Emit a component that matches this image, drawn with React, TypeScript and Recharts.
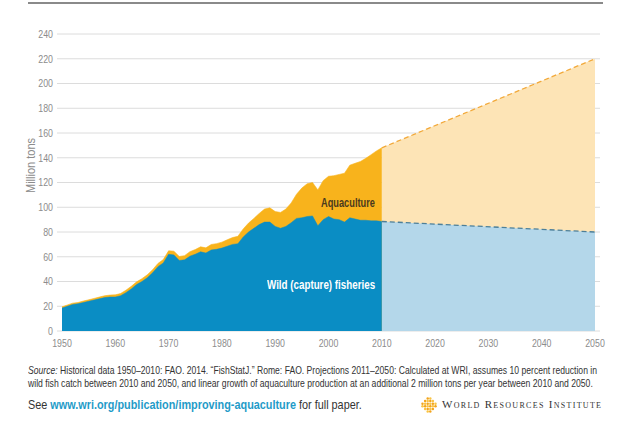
import { useLayoutEffect, useRef, useState } from "react";
import { AreaChart, Area, XAxis, YAxis, CartesianGrid } from "recharts";

const YEARS = [
  1950, 1951, 1952, 1953, 1954, 1955, 1956, 1957, 1958, 1959,
  1960, 1961, 1962, 1963, 1964, 1965, 1966, 1967, 1968, 1969,
  1970, 1971, 1972, 1973, 1974, 1975, 1976, 1977, 1978, 1979,
  1980, 1981, 1982, 1983, 1984, 1985, 1986, 1987, 1988, 1989,
  1990, 1991, 1992, 1993, 1994, 1995, 1996, 1997, 1998, 1999,
  2000, 2001, 2002, 2003, 2004, 2005, 2006, 2007, 2008, 2009, 2010,
];

// million tons
const WILD_CATCH = [
  18.5, 20, 21.5, 22, 23, 24, 25, 26, 27, 27.5,
  27.5, 28.5, 31, 34, 37.5, 40, 43, 47, 52, 55,
  62, 61.5, 57, 57.5, 60.5, 62, 64, 63, 65.5, 66,
  67, 68.5, 70, 70.5, 76, 80, 83, 86, 88, 88,
  84.5, 83, 84.5, 87.5, 91, 91.5, 92.5, 93, 85, 90,
  92.5, 90.5, 90, 88, 91.5, 90.5, 89.5, 89.5, 89, 89, 88.5,
];

const AQUACULTURE = [
  1, 1, 1, 1, 1.2, 1.2, 1.3, 1.4, 1.5, 1.5,
  1.7, 1.8, 2, 2.1, 2.2, 2.3, 2.4, 2.5, 2.6, 2.7,
  2.8, 3, 3.2, 3.4, 3.6, 3.8, 4, 4.2, 4.4, 4.6,
  4.8, 5.2, 5.5, 6, 6.5, 7.2, 8, 9, 10.5, 11.5,
  12, 12.8, 14, 16, 19.5, 24, 26.5, 27, 29, 31.5,
  32.5, 35, 36.5, 39.5, 42.5, 45, 47.5, 50, 53.5, 56.5, 59.5,
];

const PROJECTION_YEARS = [2010, 2050];
const PROJECTED_WILD = [88.5, 80];
const PROJECTED_AQUACULTURE = [59.5, 140];

const X_TICKS = [1950, 1960, 1970, 1980, 1990, 2000, 2010, 2020, 2030, 2040, 2050];
const Y_TICKS = [0, 20, 40, 60, 80, 100, 120, 140, 160, 180, 200, 220, 240];

type Row = { year: number; wild?: number; total?: number; projWild?: number; projTotal?: number };

const rows: Row[] = YEARS.map((year, i) => ({
  year,
  wild: WILD_CATCH[i],
  total: WILD_CATCH[i] + AQUACULTURE[i],
}));
PROJECTION_YEARS.forEach((year, i) => {
  let row = rows.find((r) => r.year === year);
  if (!row) {
    row = { year };
    rows.push(row);
  }
  row.projWild = PROJECTED_WILD[i];
  row.projTotal = PROJECTED_WILD[i] + PROJECTED_AQUACULTURE[i];
});

const SANS = "'Liberation Sans', Arial, sans-serif";
const TICK_SCALE = 0.8;

// squeezes a line of text to a given width (stands in for a condensed face)
function FitText({ width, style, children }: { width: number; style?: React.CSSProperties; children: React.ReactNode }) {
  const ref = useRef<HTMLSpanElement>(null);
  const [k, setK] = useState(1);
  useLayoutEffect(() => {
    if (ref.current && ref.current.offsetWidth) setK(width / ref.current.offsetWidth);
  }, [width]);
  return (
    <span
      ref={ref}
      style={{
        display: "inline-block",
        whiteSpace: "nowrap",
        transformOrigin: "0 0",
        transform: `scaleX(${k})`,
        ...style,
      }}
    >
      {children}
    </span>
  );
}

const YTick = ({ x, y, payload }: any) => (
  <g transform={`translate(${x},${y})`}>
    <text transform={`scale(${TICK_SCALE},1)`} textAnchor="end" dy="0.36em" fontSize={11} fill="#8c8c8c" fontFamily={SANS}>
      {payload.value}
    </text>
  </g>
);

const XTick = ({ x, y, payload }: any) => (
  <g transform={`translate(${x},${y})`}>
    <text transform={`scale(${TICK_SCALE},1)`} textAnchor="middle" dy="0.71em" fontSize={11} fill="#8c8c8c" fontFamily={SANS}>
      {payload.value}
    </text>
  </g>
);

const LogoMark = () => {
  const dots: { x: number; y: number; c: string }[] = [];
  for (let r = 0; r < 6; r++) {
    for (let c = 0; c < 6; c++) {
      const x = 1.5 + c * 2.6;
      const y = 1.5 + r * 2.6;
      if ((x - 8) ** 2 + (y - 8) ** 2 <= 49) {
        dots.push({ x, y, c: (r + c) % 2 ? "#f9c443" : "#f3a41c" });
      }
    }
  }
  return (
    <svg width={16} height={16} style={{ position: "absolute", left: 421, top: 397 }}>
      {dots.map((d, i) => (
        <circle key={i} cx={d.x} cy={d.y} r={1.25} fill={d.c} />
      ))}
    </svg>
  );
};

export default function App() {
  return (
    <div style={{ position: "absolute", left: 0, top: 0, width: 640, height: 434, background: "#fff", fontFamily: SANS }}>
      <div style={{ position: "absolute", left: 28, top: 2, width: 575, height: 2, background: "#8a8a8a" }} />
      <AreaChart width={640} height={360} data={rows} margin={{ top: 34, right: 40, left: 12, bottom: 9 }}>
        <CartesianGrid vertical={false} stroke="#dcdcdc" />
        <XAxis
          dataKey="year"
          type="number"
          domain={[1950, 2050]}
          ticks={X_TICKS}
          padding={{ left: 5, right: 5 }}
          height={20}
          tick={<XTick />}
          tickLine={false}
          axisLine={false}
        />
        <YAxis
          type="number"
          domain={[0, 240]}
          ticks={Y_TICKS}
          width={45}
          tick={<YTick />}
          tickSize={4}
          tickMargin={0}
          tickLine={false}
          axisLine={false}
        />
        <Area
          type="linear"
          dataKey="projTotal"
          stroke="#f2a93a"
          strokeWidth={1.3}
          strokeDasharray="5 3"
          fill="#fde4b6"
          fillOpacity={1}
          isAnimationActive={false}
        />
        <Area
          type="linear"
          dataKey="projWild"
          stroke="#4c7f99"
          strokeWidth={1.3}
          strokeDasharray="5 3"
          fill="#b4d7ea"
          fillOpacity={1}
          isAnimationActive={false}
        />
        <Area
          type="linear"
          dataKey="total"
          stroke="#f8b31c"
          strokeWidth={0.6}
          fill="#f8b31c"
          fillOpacity={1}
          isAnimationActive={false}
        />
        <Area
          type="linear"
          dataKey="wild"
          stroke="#0a8dc4"
          strokeWidth={0.5}
          fill="#0a8dc4"
          fillOpacity={1}
          isAnimationActive={false}
        />
      </AreaChart>

      <div style={{ position: "absolute", left: 23, top: 193, transform: "rotate(-90deg)", transformOrigin: "0 0", lineHeight: "14px" }}>
        <FitText width={55} style={{ fontSize: 12, color: "#8c8c8c" }}>Million tons</FitText>
      </div>

      <div style={{ position: "absolute", left: 321, top: 194, lineHeight: "15px" }}>
        <FitText width={54} style={{ fontSize: 12.5, fontWeight: 700, color: "#4a3a1e" }}>Aquaculture</FitText>
      </div>
      <div style={{ position: "absolute", left: 267, top: 276, lineHeight: "15px" }}>
        <FitText width={108} style={{ fontSize: 12.5, fontWeight: 700, color: "#ffffff" }}>Wild (capture) fisheries</FitText>
      </div>

      <div style={{ position: "absolute", left: 28, top: 364, fontSize: 11, lineHeight: "12.5px", color: "#333" }}>
        <div>
          <FitText width={569}>
            <i>Source:</i> Historical data 1950–2010: FAO. 2014. “FishStatJ.” Rome: FAO. Projections 2011–2050: Calculated at WRI, assumes 10 percent reduction in
          </FitText>
        </div>
        <div>
          <FitText width={565}>
            wild fish catch between 2010 and 2050, and linear growth of aquaculture production at an additional 2 million tons per year between 2010 and 2050.
          </FitText>
        </div>
      </div>

      <div style={{ position: "absolute", left: 28, top: 397, fontSize: 13, lineHeight: "16px", color: "#333" }}>
        <FitText width={334}>
          See <span style={{ color: "#1f9bc8", fontWeight: 700 }}>www.wri.org/publication/improving-aquaculture</span> for full paper.
        </FitText>
      </div>

      <LogoMark />
      <div
        style={{
          position: "absolute",
          left: 442,
          top: 398,
          fontFamily: "'Liberation Serif', 'DejaVu Serif', serif",
          fontSize: 11,
          fontVariant: "small-caps",
          letterSpacing: 1.3,
          color: "#333",
          whiteSpace: "nowrap",
        }}
      >
        World Resources Institute
      </div>
    </div>
  );
}
